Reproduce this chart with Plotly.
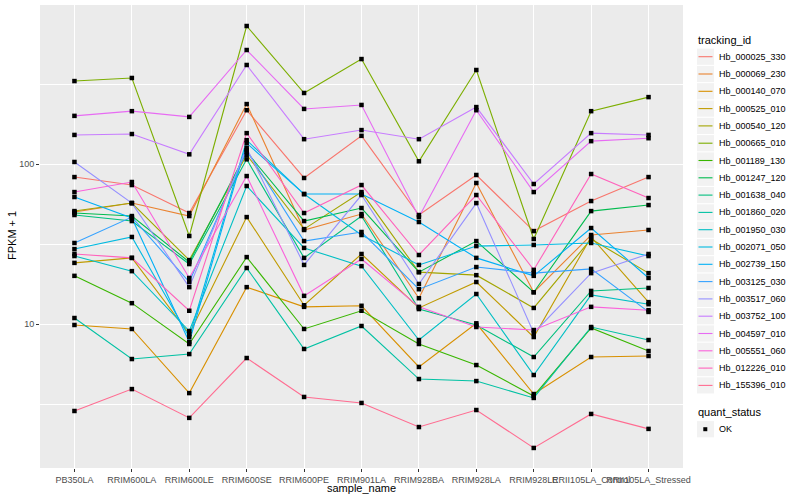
import plotly.graph_objects as go

samples = ["PB350LA", "RRIM600LA", "RRIM600LE", "RRIM600SE", "RRIM600PE", "RRIM901LA",
           "RRIM928BA", "RRIM928LA", "RRIM928LE", "RRII105LA_Control", "RRII105LA_Stressed"]

tracking_ids = ["Hb_000025_330", "Hb_000069_230", "Hb_000140_070", "Hb_000525_010", "Hb_000540_120",
                "Hb_000665_010", "Hb_001189_130", "Hb_001247_120", "Hb_001638_040", "Hb_001860_020",
                "Hb_001950_030", "Hb_002071_050", "Hb_002739_150", "Hb_003125_030", "Hb_003517_060",
                "Hb_003752_100", "Hb_004597_010", "Hb_005551_060", "Hb_012226_010", "Hb_155396_010"]

# FPKM + 1 per sample (same order as samples)
hb_000025_330 = [82.9, 73.9, 49.4, 217, 81.8, 150, 48.0, 85.4, 38.1, 58.7, 82.9]
hb_000069_230 = [50.1, 57.0, 47.3, 237, 38.7, 48.7, 14.5, 76.1, 15.8, 36.0, 38.7]
hb_000140_070 = [9.86, 9.31, 3.70, 17.0, 12.8, 13.0, 5.39, 10.1, 3.65, 6.22, 6.31]
hb_000525_010 = [24.1, 25.9, 8.66, 46.6, 13.1, 27.4, 12.6, 18.3, 8.29, 35.0, 13.7]
hb_000540_120 = [50.8, 57.0, 25.1, 114, 39.2, 66.8, 21.1, 20.2, 12.6, 34.0, 20.8]
hb_000665_010 = [330, 345, 35.5, 729, 278, 453, 104, 387, 34.0, 214, 262]
hb_001189_130 = [20.0, 13.5, 7.50, 26.2, 9.31, 12.1, 7.50, 5.54, 3.55, 9.44, 6.78]
hb_001247_120 = [49.4, 47.3, 24.4, 119, 44.0, 53.1, 21.1, 33.0, 15.8, 50.8, 55.4]
hb_001638_040 = [48.0, 44.0, 23.7, 107, 25.9, 47.3, 12.4, 9.86, 6.22, 16.1, 16.8]
hb_001860_020 = [10.9, 6.04, 6.49, 22.4, 6.98, 9.72, 4.53, 4.40, 3.45, 9.58, 7.94]
hb_001950_030 = [26.6, 21.4, 9.04, 72.9, 29.9, 23.0, 7.94, 15.4, 4.80, 15.2, 13.3]
hb_002071_050 = [29.4, 35.0, 8.29, 141, 64.9, 36.0, 23.4, 30.7, 31.2, 32.1, 26.6]
hb_002739_150 = [62.2, 46.0, 7.72, 135, 64.9, 64.9, 43.4, 25.9, 20.0, 39.8, 19.4]
hb_003125_030 = [32.1, 46.6, 18.3, 122, 33.0, 37.6, 16.5, 22.7, 20.8, 22.1, 11.9]
hb_003517_060 = [103, 57.0, 17.0, 126, 23.4, 64.0, 17.8, 57.0, 8.79, 20.8, 27.4]
hb_003752_100 = [152, 154, 115, 416, 143, 163, 143, 227, 75.0, 156, 152]
hb_004597_010 = [200, 214, 197, 516, 221, 234, 46.6, 217, 66.8, 139, 145]
hb_005551_060 = [66.8, 77.2, 19.4, 84.1, 15.0, 25.5, 12.8, 9.58, 9.17, 12.8, 12.2]
hb_012226_010 = [27.4, 25.9, 12.1, 156, 49.4, 73.9, 27.0, 64.0, 21.8, 86.6, 61.3]
hb_155396_010 = [2.86, 3.92, 2.59, 6.13, 3.50, 3.21, 2.27, 2.90, 1.68, 2.74, 2.21]

series_values = [hb_000025_330, hb_000069_230, hb_000140_070, hb_000525_010, hb_000540_120,
                 hb_000665_010, hb_001189_130, hb_001247_120, hb_001638_040, hb_001860_020,
                 hb_001950_030, hb_002071_050, hb_002739_150, hb_003125_030, hb_003517_060,
                 hb_003752_100, hb_004597_010, hb_005551_060, hb_012226_010, hb_155396_010]

palette = ["#F8766D", "#EA8331", "#D89000", "#C09B00", "#A3A500", "#7CAE00", "#39B600", "#00BB4E",
           "#00BF7D", "#00C1A3", "#00BFC4", "#00BAE0", "#00B0F6", "#35A2FF", "#9590FF", "#C77CFF",
           "#E76BF3", "#FA62DB", "#FF62BC", "#FF6C91"]

quant_status = ["OK"]

FONT = "Liberation Sans, Arial, Helvetica, sans-serif"
W, H = 800, 500
L, R, T, B = 40, 117, 5, 32
PW, PH = W - L - R, H - T - B


def px_x(px):
    return (px - L) / PW


def px_y(py):
    return (H - B - py) / PH


fig = go.Figure()
for name, vals, col in zip(tracking_ids, series_values, palette):
    fig.add_trace(go.Scatter(x=samples, y=vals, mode="lines", name=name,
                             line=dict(color=col, width=1.1), showlegend=False))
for name, vals in zip(tracking_ids, series_values):
    fig.add_trace(go.Scatter(x=samples, y=vals, mode="markers", name=name,
                             marker=dict(symbol="square", size=4.5, color="black"),
                             showlegend=False))

shapes = []
annotations = []

# axis titles
annotations.append(dict(text="FPKM + 1", xref="paper", yref="paper", x=px_x(12), y=px_y(236),
                        textangle=-90, showarrow=False, xanchor="center", yanchor="middle",
                        font=dict(family=FONT, size=11, color="black")))
annotations.append(dict(text="sample_name", xref="paper", yref="paper", x=0.5, y=px_y(488),
                        showarrow=False, xanchor="center", yanchor="middle",
                        font=dict(family=FONT, size=11, color="black")))

# legend: tracking_id
annotations.append(dict(text="tracking_id", xref="paper", yref="paper", x=px_x(695.5), y=px_y(40.5),
                        showarrow=False, xanchor="left", yanchor="middle",
                        font=dict(family=FONT, size=11, color="black")))
for i, (name, col) in enumerate(zip(tracking_ids, palette)):
    yc = 56.7 + 17.3 * i
    shapes.append(dict(type="rect", xref="paper", yref="paper", x0=px_x(697), x1=px_x(714),
                       y0=px_y(yc - 8.1), y1=px_y(yc + 8.1), fillcolor="#F2F2F2", line=dict(width=0)))
    shapes.append(dict(type="line", xref="paper", yref="paper", x0=px_x(698.5), x1=px_x(712.5),
                       y0=px_y(yc), y1=px_y(yc), line=dict(color=col, width=1.1)))
    annotations.append(dict(text=name, xref="paper", yref="paper", x=px_x(716.5), y=px_y(yc),
                            showarrow=False, xanchor="left", yanchor="middle",
                            font=dict(family=FONT, size=9, color="black")))

# legend: quant_status
annotations.append(dict(text="quant_status", xref="paper", yref="paper", x=px_x(695.5), y=px_y(412.3),
                        showarrow=False, xanchor="left", yanchor="middle",
                        font=dict(family=FONT, size=11, color="black")))
for j, st in enumerate(quant_status):
    yc = 429.2 + 17.3 * j
    shapes.append(dict(type="rect", xref="paper", yref="paper", x0=px_x(697), x1=px_x(714),
                       y0=px_y(yc - 8.1), y1=px_y(yc + 8.1), fillcolor="#F2F2F2", line=dict(width=0)))
    shapes.append(dict(type="rect", xref="paper", yref="paper", x0=px_x(703.3), x1=px_x(707.3),
                       y0=px_y(yc - 2), y1=px_y(yc + 2), fillcolor="black", line=dict(width=0)))
    annotations.append(dict(text=st, xref="paper", yref="paper", x=px_x(716.5), y=px_y(yc),
                            showarrow=False, xanchor="left", yanchor="middle",
                            font=dict(family=FONT, size=9, color="black")))

fig.update_layout(
    width=W, height=H,
    margin=dict(l=L, r=R, t=T, b=B, autoexpand=False),
    paper_bgcolor="white", plot_bgcolor="#EBEBEB",
    font=dict(family=FONT, size=9, color="#4D4D4D"),
    showlegend=False,
    shapes=shapes, annotations=annotations,
    xaxis=dict(type="category", categoryorder="array", categoryarray=samples,
               range=[-0.6, len(samples) - 0.4], showgrid=True, gridcolor="white", gridwidth=1.3,
               ticks="outside", ticklen=3, tickwidth=1, tickcolor="#333333", tickangle=0,
               tickfont=dict(family=FONT, size=9, color="#4D4D4D"),
               zeroline=False, showline=False, automargin=False, fixedrange=True),
    yaxis=dict(type="log", range=[0.1, 2.994], tickvals=[10, 100], ticktext=["10", "100"],
               showgrid=True, gridcolor="white", gridwidth=1.3,
               minor=dict(tickvals=[3.1623, 31.623, 316.23], showgrid=True, gridcolor="white",
                          gridwidth=0.6, ticks=""),
               ticks="outside", ticklen=3, tickwidth=1, tickcolor="#333333",
               tickfont=dict(family=FONT, size=9, color="#4D4D4D"),
               zeroline=False, showline=False, automargin=False, fixedrange=True),
)

fig.write_html("out.html",
               config={"displayModeBar": False},
               post_script="document.body.style.margin='0';document.body.style.overflow='hidden';")
